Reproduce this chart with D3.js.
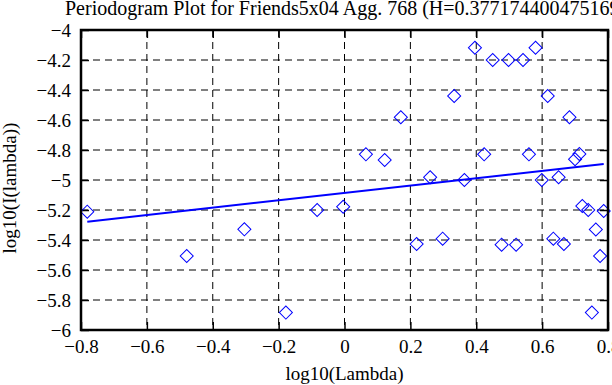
<!DOCTYPE html>
<html>
<head>
<meta charset="utf-8">
<script src="https://cdn.jsdelivr.net/npm/d3@7"></script>
<style>
  body { margin: 0; background: #fff; }
  svg { display: block; font-family: "Liberation Serif", "DejaVu Serif", serif; }
</style>
</head>
<body>
<svg id="chart"></svg>
<script>
// periodogram points, log10(lambda) vs log10(I(lambda))
const logLambda = [
  -0.781, -0.479, -0.304, -0.178, -0.083, -0.004, 0.065, 0.122, 0.171, 0.219,
  0.260, 0.298, 0.333, 0.364, 0.396, 0.424, 0.450, 0.477, 0.498, 0.521,
  0.542, 0.560, 0.580, 0.599, 0.617, 0.634, 0.650, 0.666, 0.683, 0.700,
  0.713, 0.722, 0.740, 0.751, 0.763, 0.776, 0.787,
]
const logI = [
  -5.211, -5.507, -5.329, -5.884, -5.200, -5.178, -4.829, -4.867, -4.582, -5.427,
  -4.982, -5.391, -4.440, -5.000, -4.118, -4.829, -4.200, -5.431, -4.200, -5.431,
  -4.200, -4.829, -4.118, -5.000, -4.440, -5.391, -4.982, -5.427, -4.582, -4.862,
  -4.827, -5.173, -5.200, -5.884, -5.330, -5.507, -5.207,
]
// fitted line end points
const fitX = [-0.781, 0.787]
const fitY = [-5.278, -4.893]

const title = 'Periodogram Plot for Friends5x04 Agg. 768 (H=0.377174400475169)'
const xLabel = 'log10(Lambda)'
const yLabel = 'log10(I(lambda))'

const width = 612
const height = 385
const margin = { top: 30, right: 4, bottom: 55, left: 81 }
const _w = width - margin.left - margin.right
const _h = height - margin.top - margin.bottom

const svg = d3.select('#chart').attr('width', width).attr('height', height)

const x = d3.scaleLinear().domain([-0.8, 0.8]).range([0, _w])
const y = d3.scaleLinear().domain([-6, -4]).range([_h, 0])
const fmt = (d) => d3.format('~f')(Math.abs(d) < 1e-9 ? 0 : d)

const g = svg.append('g').attr('transform', `translate(${margin.left},${margin.top})`)

const xTicks = x.ticks(8)
const yTicks = y.ticks(10)

// dashed grid
g.append('g')
  .selectAll('line')
  .data(xTicks.slice(1, -1))
  .join('line')
  .attr('x1', (d) => x(d))
  .attr('x2', (d) => x(d))
  .attr('y1', 0)
  .attr('y2', _h)
  .attr('stroke', '#000')
  .attr('stroke-dasharray', '7,5')
g.append('g')
  .selectAll('line')
  .data(yTicks.slice(1, -1))
  .join('line')
  .attr('y1', (d) => y(d))
  .attr('y2', (d) => y(d))
  .attr('x1', 0)
  .attr('x2', _w)
  .attr('stroke', '#000')
  .attr('stroke-dasharray', '7,5')

// axes, ticks pointing inward
function styleAxis(sel) {
  sel.select('.domain').remove()
  sel.selectAll('.tick line').attr('stroke-width', 1.5)
  sel.selectAll('text').attr('font-size', 19).attr('fill', '#000')
    .attr('font-family', '"Liberation Serif", serif')
}
g.append('g')
  .call(d3.axisLeft(y).tickValues(yTicks).tickFormat(fmt).tickSize(-8).tickPadding(10))
  .call(styleAxis)
g.append('g')
  .attr('transform', `translate(${_w},0)`)
  .call(d3.axisRight(y).tickValues(yTicks).tickFormat('').tickSize(-8))
  .call(styleAxis)
g.append('g')
  .attr('transform', `translate(0,${_h})`)
  .call(d3.axisBottom(x).tickValues(xTicks).tickFormat(fmt).tickSize(-8).tickPadding(10))
  .call(styleAxis)
g.append('g')
  .call(d3.axisTop(x).tickValues(xTicks).tickFormat('').tickSize(-8))
  .call(styleAxis)

// fitted line
g.append('path')
  .datum(d3.zip(fitX, fitY))
  .attr('fill', 'none')
  .attr('stroke', '#0000ff')
  .attr('stroke-width', 2)
  .attr('d', d3.line().x((d) => x(d[0])).y((d) => y(d[1])))

// diamonds
const diamond = d3.symbol().type(d3.symbolSquare).size(85)
g.append('g')
  .selectAll('path')
  .data(d3.zip(logLambda, logI))
  .join('path')
  .attr('transform', (d) => `translate(${x(d[0])},${y(d[1])}) rotate(45)`)
  .attr('d', diamond)
  .attr('fill', 'none')
  .attr('stroke', '#0000ff')
  .attr('stroke-width', 1)

// frame
g.append('rect')
  .attr('width', _w)
  .attr('height', _h)
  .attr('fill', 'none')
  .attr('stroke', '#000')
  .attr('stroke-width', 2.5)

// labels
svg.append('text')
  .attr('x', 65)
  .attr('y', 15)
  .attr('font-size', 20)
  .text(title)
svg.append('text')
  .attr('x', margin.left + x(0))
  .attr('y', 380)
  .attr('text-anchor', 'middle')
  .attr('font-size', 19)
  .text(xLabel)
svg.append('text')
  .attr('transform', `translate(16,${margin.top + _h / 2 + 8}) rotate(-90)`)
  .attr('text-anchor', 'middle')
  .attr('font-size', 19)
  .text(yLabel)
</script>
</body>
</html>
